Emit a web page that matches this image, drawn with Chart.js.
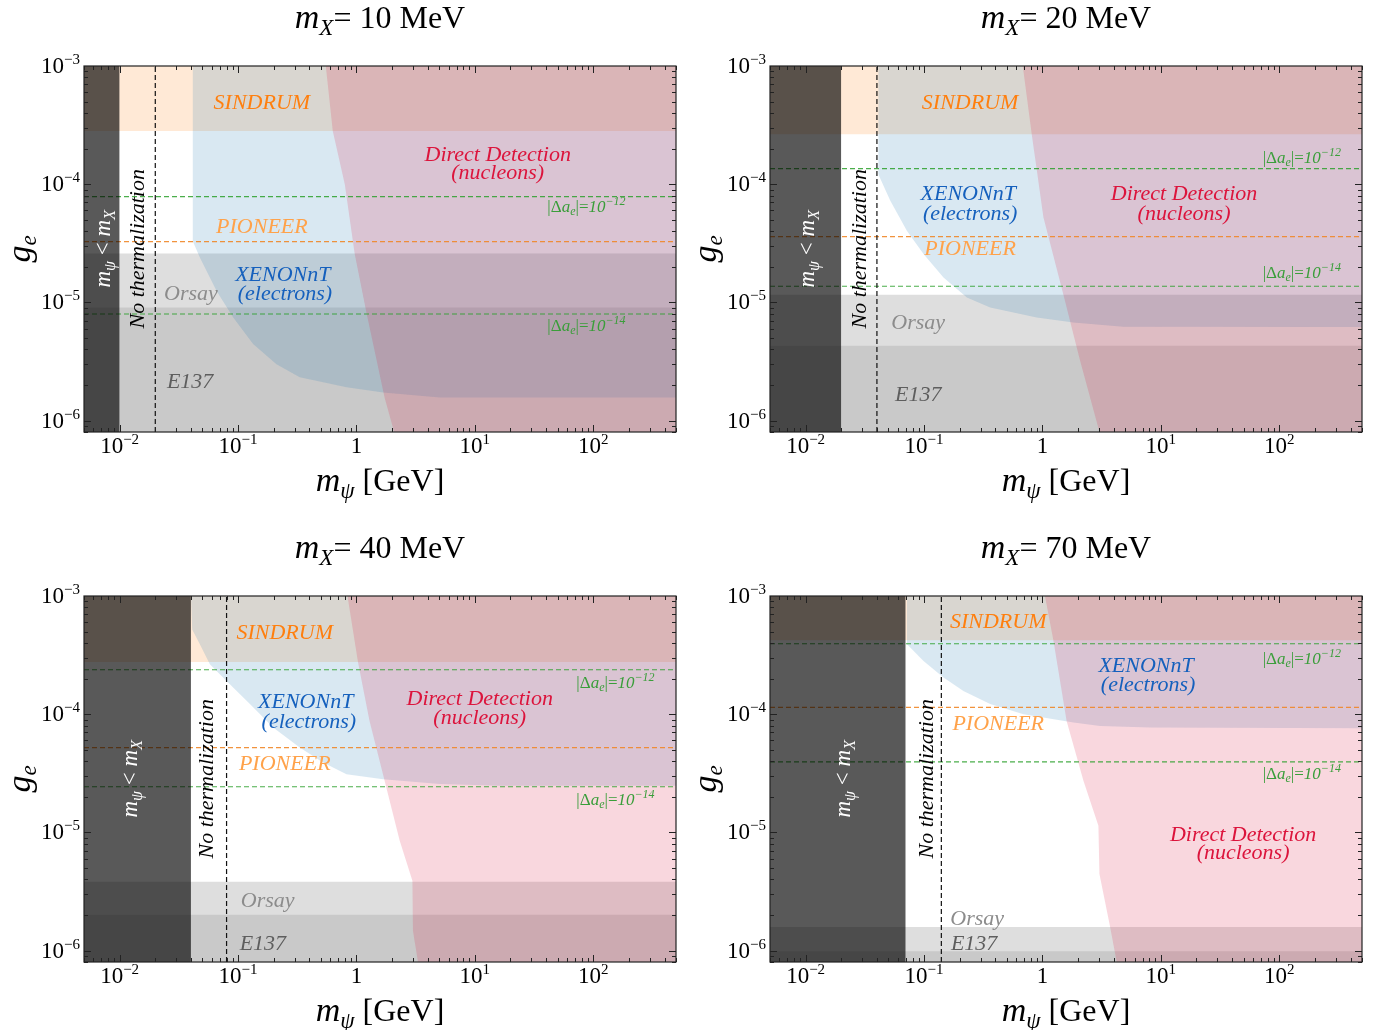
<!DOCTYPE html>
<html>
<head>
<meta charset="utf-8">
<script src="https://cdn.jsdelivr.net/npm/chart.js@4.4.1/dist/chart.umd.min.js"></script>
<style>
  body { margin: 0; background: #fff; }
  canvas { position: absolute; }
</style>
</head>
<body>
<canvas id="p0" width="686" height="530" style="left:0;top:0"></canvas>
<canvas id="p1" width="686" height="530" style="left:686px;top:0"></canvas>
<canvas id="p2" width="686" height="530" style="left:0;top:530px"></canvas>
<canvas id="p3" width="686" height="530" style="left:686px;top:530px"></canvas>
<script>
// axis ranges (GeV on x, coupling g_e on y)
var X_MIN = 5e-3, X_MAX = 500, Y_MIN = 8e-7, Y_MAX = 1e-3;

var xTickValues = [0.01, 0.1, 1, 10, 100];
var xTickLabels = [['10', '\u22122'], ['10', '\u22121'], ['1', ''], ['10', '1'], ['10', '2']];
var yTickValues = [1e-6, 1e-5, 1e-4, 1e-3];
var yTickLabels = [['10', '\u22126'], ['10', '\u22125'], ['10', '\u22124'], ['10', '\u22123']];

// one entry per panel
var mXMeV    = [10, 20, 40, 70];
var mXGeV    = [0.01, 0.02, 0.04, 0.07];
var noThermX = [0.02, 0.04, 0.08, 0.14];
var sindrumLow = [2.82e-4, 2.65e-4, 2.77e-4, 4.22e-4];
var orsayTop = [2.59e-5, 1.16e-5, 3.82e-6, 1.58e-6];
var e137Top  = [9.06e-6, 4.3e-6, 2.01e-6, 9.84e-7];
var pioneerG = [3.27e-5, 3.6e-5, 5.22e-5, 1.14e-4];
var ae12G    = [7.85e-5, 1.355e-4, 2.38e-4, 3.95e-4];
var ae14G    = [7.96e-6, 1.37e-5, 2.43e-5, 3.95e-5];

// XENONnT (electrons) lower edge
var xenonX = [
  [0.0413, 0.0413, 0.0476, 0.0659, 0.091, 0.134, 0.211, 0.332, 0.824, 1.68, 5.05, 500],
  [0.041, 0.041, 0.0519, 0.0716, 0.099, 0.146, 0.23, 0.362, 0.895, 1.83, 4.83, 500],
  [0.04, 0.041, 0.0476, 0.0578, 0.08, 0.126, 0.198, 0.332, 0.523, 0.824, 1.68, 5.05, 16.2, 500],
  [0.0715, 0.0718, 0.099, 0.146, 0.215, 0.362, 0.692, 1.83, 3.07, 8.1, 500]
];
var xenonY = [
  [1e-3, 3.32e-5, 2.4e-5, 1.25e-5, 7.45e-6, 4.44e-6, 3.0e-6, 2.32e-6, 1.91e-6, 1.73e-6, 1.57e-6, 1.57e-6],
  [1e-3, 1.22e-4, 7.23e-5, 4.03e-5, 2.56e-5, 1.62e-5, 1.1e-5, 9.05e-6, 7.45e-6, 6.76e-6, 6.22e-6, 6.2e-6],
  [1e-3, 5.2e-4, 3.91e-4, 2.65e-4, 1.91e-4, 1.22e-4, 7.71e-5, 5.22e-5, 3.9e-5, 3.11e-5, 2.82e-5, 2.56e-5, 2.48e-5, 2.48e-5],
  [1e-3, 3.91e-4, 2.82e-4, 2.04e-4, 1.57e-4, 1.22e-4, 1e-4, 8.5e-5, 7.96e-5, 7.7e-5, 7.6e-5]
];

// Direct detection (nucleons) left edge
var ddX = [
  [0.551, 0.631, 0.797, 0.967, 1.22, 1.73, 2.08, 500],
  [0.682, 0.812, 1.02, 1.50, 2.08, 3.03, 500],
  [0.84, 1.03, 1.29, 1.73, 2.32, 2.97, 3.0, 3.31, 500],
  [1.05, 1.24, 1.6, 2.22, 2.97, 3.03, 3.73, 4.24, 500]
];
var ddY = [
  [1e-3, 2.82e-4, 1e-4, 2.57e-5, 8e-6, 1.56e-6, 8e-7, 8e-7],
  [1e-3, 2.65e-4, 5.22e-5, 1.17e-5, 3.2e-6, 8e-7, 8e-7],
  [1e-3, 2.77e-4, 8.77e-5, 2.73e-5, 8.5e-6, 3.9e-6, 1.47e-6, 8e-7, 8e-7],
  [1e-3, 4.17e-4, 8.77e-5, 2.73e-5, 1.14e-5, 4.44e-6, 1.58e-6, 8e-7, 8e-7]
];

// where the annotations sit, in data coordinates (one per panel)
var labelAt = {
  sindrum: [[0.159, 4.96e-4], [0.245, 4.96e-4], [0.248, 4.96e-4], [0.423, 6.15e-4]],
  pioneer: [[0.159, 4.45e-5], [0.245, 2.9e-5], [0.248, 3.87e-5], [0.423, 8.43e-5]],
  xenon1:  [[0.239, 1.75e-5], [0.236, 8.43e-5], [0.373, 1.29e-4], [7.5, 2.61e-4]],
  xenon2:  [[0.249, 1.2e-5], [0.245, 5.71e-5], [0.396, 8.77e-5], [7.8, 1.8e-4]],
  dd1:     [[15.6, 1.8e-4], [15.7, 8.43e-5], [11.0, 1.37e-4], [49.5, 9.7e-6]],
  dd2:     [[15.6, 1.27e-4], [15.7, 5.71e-5], [11.0, 9.48e-5], [49.5, 6.86e-6]],
  ae12:    [[87.7, 6.43e-5], [155, 1.7e-4], [154, 1.87e-4], [155, 2.99e-4]],
  ae14:    [[87.7, 6.34e-6], [155, 1.78e-5], [154, 1.89e-5], [155, 3.13e-5]],
  orsay:   [[0.04, 1.2e-5], [0.0893, 6.86e-6], [0.178, 2.69e-6], [0.281, 1.9e-6]],
  e137:    [[0.0394, 2.17e-6], [0.0893, 1.69e-6], [0.162, 1.17e-6], [0.265, 1.17e-6]],
  noth:    [[0.014, 2.84e-5], [0.0279, 2.84e-5], [0.0536, 2.84e-5], [0.104, 2.84e-5]],
  mpsi:    [[0.0071, 2.84e-5], [0.0101, 2.84e-5], [0.0122, 2.84e-5], [0.0204, 2.84e-5]]
};

var FONT = '"Liberation Serif", "DejaVu Serif", serif';
function font(size, it) { return (it ? 'italic ' : '') + size + 'px ' + FONT; }

var textStyle = {
  sindrum: { color: '#ff7f0e', parts: [['SINDRUM', 22, true]] },
  pioneer: { color: '#ffa24a', parts: [['PIONEER', 22, true]] },
  xenon1:  { color: '#1560bd', parts: [['XENONnT', 22, true]] },
  xenon2:  { color: '#1560bd', parts: [['(electrons)', 22, true]] },
  dd1:     { color: '#dc143c', parts: [['Direct Detection', 22, true]] },
  dd2:     { color: '#dc143c', parts: [['(nucleons)', 22, true]] },
  ae12:    { color: '#3a9e3a', parts: [['|\u0394', 17, false], ['a', 17, true], ['e', 12, true, 3], ['|=', 17, false], ['10', 17, true], ['\u221212', 12, true, -7]] },
  ae14:    { color: '#3a9e3a', parts: [['|\u0394', 17, false], ['a', 17, true], ['e', 12, true, 3], ['|=', 17, false], ['10', 17, true], ['\u221214', 12, true, -7]] },
  orsay:   { color: '#8c8c8c', parts: [['Orsay', 22, true]] },
  e137:    { color: '#5e5e5e', parts: [['E137', 22, true]] },
  noth:    { color: '#000', rot: true, parts: [['No thermalization', 22, true]] },
  mpsi:    { color: '#fff', rot: true, parts: [['m', 23, true], ['\u03c8', 16, true, 5], [' < ', 23, false], ['m', 23, true], ['X', 16, true, 5]] }
};

function drawParts(ctx, parts, x, y, align) {
  var w = 0;
  parts.forEach(function (p) { ctx.font = font(p[1], p[2]); w += ctx.measureText(p[0]).width; });
  var sx = align === 'center' ? x - w / 2 : (align === 'right' ? x - w : x);
  ctx.textAlign = 'left';
  ctx.textBaseline = 'alphabetic';
  parts.forEach(function (p) {
    ctx.font = font(p[1], p[2]);
    ctx.fillText(p[0], sx, y + (p[3] || 0));
    sx += ctx.measureText(p[0]).width;
  });
}

function pts(xs, ys) { return xs.map(function (x, i) { return { x: x, y: ys[i] }; }); }

function area(xs, ys, color, fill, order) {
  return { data: pts(xs, ys), backgroundColor: color, borderColor: 'transparent', borderWidth: 0,
           fill: fill, pointRadius: 0, order: order };
}
function dashed(xs, ys, color, width, order) {
  return { data: pts(xs, ys), borderColor: color, borderWidth: width, borderDash: [5, 3],
           fill: false, pointRadius: 0, order: order };
}

function decor(k) {
  return {
    id: 'decor' + k,
    afterDraw: function (chart) {
      var ctx = chart.ctx, a = chart.chartArea, sx = chart.scales.x, sy = chart.scales.y;
      ctx.save();

      // annotations
      Object.keys(textStyle).forEach(function (key) {
        var st = textStyle[key], at = labelAt[key][k];
        var px = sx.getPixelForValue(at[0]), py = sy.getPixelForValue(at[1]);
        var size = st.parts[0][1];
        ctx.fillStyle = st.color;
        if (st.rot) {
          ctx.save();
          ctx.translate(px, py);
          ctx.rotate(-Math.PI / 2);
          drawParts(ctx, st.parts, 0, 0.33 * size, 'center');
          ctx.restore();
        } else {
          drawParts(ctx, st.parts, px, py + 0.33 * size, 'center');
        }
      });

      // frame and inward ticks on all sides
      ctx.strokeStyle = '#222';
      ctx.lineWidth = 1;
      ctx.beginPath();
      for (var e = -3; e <= 2; e++) {
        for (var m = 1; m <= 9; m++) {
          var v = m * Math.pow(10, e);
          if (v < X_MIN || v > X_MAX) continue;
          var x = Math.round(sx.getPixelForValue(v)) + 0.5, len = m === 1 ? 7 : 4;
          ctx.moveTo(x, a.bottom); ctx.lineTo(x, a.bottom - len);
          ctx.moveTo(x, a.top); ctx.lineTo(x, a.top + len);
        }
      }
      for (e = -7; e <= -4; e++) {
        for (m = 1; m <= 9; m++) {
          v = m * Math.pow(10, e);
          if (v < Y_MIN || v > Y_MAX) continue;
          var y = Math.round(sy.getPixelForValue(v)) + 0.5;
          len = m === 1 ? 7 : 4;
          ctx.moveTo(a.left, y); ctx.lineTo(a.left + len, y);
          ctx.moveTo(a.right, y); ctx.lineTo(a.right - len, y);
        }
      }
      ctx.stroke();
      ctx.lineWidth = 1.2;
      ctx.strokeRect(a.left, a.top, a.right - a.left, a.bottom - a.top);

      // tick labels
      ctx.fillStyle = '#000';
      xTickValues.forEach(function (v, i) {
        var lab = xTickLabels[i];
        drawParts(ctx, [[lab[0], 23, false], [lab[1], 15, false, -9]], sx.getPixelForValue(v), a.bottom + 21, 'center');
      });
      yTickValues.forEach(function (v, i) {
        var lab = yTickLabels[i];
        drawParts(ctx, [[lab[0], 23, false], [lab[1], 15, false, -9]], a.left - 4, sy.getPixelForValue(v) + 7, 'right');
      });

      // titles
      var cx = (a.left + a.right) / 2;
      drawParts(ctx, [['m', 34, true], ['X', 23, true, 7], ['= ' + mXMeV[k] + ' MeV', 32, false]], cx, a.top - 38, 'center');
      drawParts(ctx, [['m', 34, true], ['\u03c8', 23, true, 7], [' [GeV]', 32, false]], cx, a.bottom + 59, 'center');
      ctx.save();
      ctx.translate(22, (a.top + a.bottom) / 2);
      ctx.rotate(-Math.PI / 2);
      drawParts(ctx, [['g', 34, true], ['e', 23, true, 6]], 0, 8, 'center');
      ctx.restore();

      ctx.restore();
    }
  };
}

for (var k = 0; k < 4; k++) {
  var full = [X_MIN, X_MAX];
  var datasets = [
    area([X_MIN, mXGeV[k]], [Y_MAX, Y_MAX], 'rgba(0,0,0,0.65)', 'start', 1),
    dashed([noThermX[k], noThermX[k]], [Y_MIN, Y_MAX], '#111', 1.2, 2),
    dashed(full, [ae12G[k], ae12G[k]], 'rgba(44,160,44,0.85)', 1.1, 2),
    dashed(full, [ae14G[k], ae14G[k]], 'rgba(44,160,44,0.85)', 1.1, 2),
    dashed(full, [pioneerG[k], pioneerG[k]], 'rgba(240,135,40,0.9)', 1.2, 2),
    area(ddX[k], ddY[k], 'rgba(220,20,60,0.17)', 'end', 3),
    area(xenonX[k], xenonY[k], 'rgba(31,119,180,0.17)', 'end', 4),
    area(full, [sindrumLow[k], sindrumLow[k]], 'rgba(255,127,14,0.17)', 'end', 5),
    area(full, [orsayTop[k], orsayTop[k]], 'rgba(128,128,128,0.26)', 'start', 6),
    area(full, [e137Top[k], e137Top[k]], 'rgba(128,128,128,0.23)', 'start', 7)
  ];
  new Chart(document.getElementById('p' + k), {
    type: 'line',
    data: { datasets: datasets },
    options: {
      responsive: false,
      animation: false,
      events: [],
      layout: { padding: { left: 84, right: 10, top: 66, bottom: 98 } },
      scales: {
        x: { type: 'logarithmic', min: X_MIN, max: X_MAX, display: false },
        y: { type: 'logarithmic', min: Y_MIN, max: Y_MAX, display: false }
      },
      elements: { line: { tension: 0 }, point: { radius: 0 } },
      plugins: { legend: { display: false }, tooltip: { enabled: false } }
    },
    plugins: [decor(k)]
  });
}
</script>
</body>
</html>
